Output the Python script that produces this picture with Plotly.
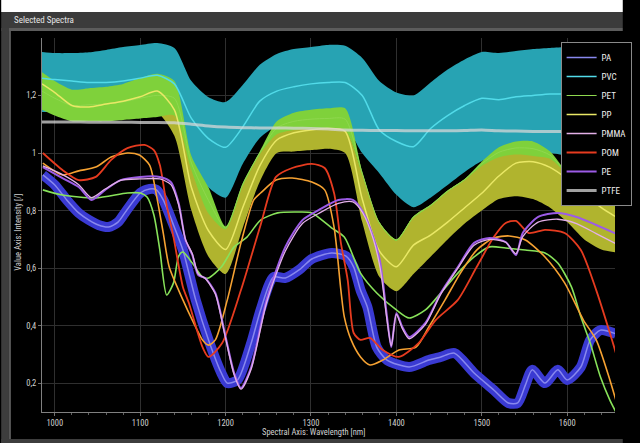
import plotly.graph_objects as go
import numpy as np

# ---------------- data ----------------
grid_nm = [985, 1000, 1020, 1040, 1060, 1080, 1100, 1120, 1140, 1160, 1180, 1200, 1220, 1240,
           1260, 1280, 1300, 1320, 1340, 1360, 1380, 1400, 1420, 1440, 1460, 1480, 1500, 1520,
           1540, 1560, 1580, 1600, 1620, 1640, 1656]

pvc_top = [1.351, 1.347, 1.347, 1.35, 1.358, 1.368, 1.375, 1.382, 1.365, 1.25, 1.194, 1.177, 1.236,
           1.306, 1.344, 1.361, 1.368, 1.375, 1.372, 1.33, 1.25, 1.21, 1.20, 1.245, 1.29, 1.325,
           1.351, 1.347, 1.354, 1.361, 1.365, 1.368, 1.372, 1.372, 1.372]
pvc_bot = [1.142, 1.142, 1.139, 1.142, 1.146, 1.149, 1.149, 1.149, 1.13, 0.96, 0.88, 0.845, 0.962,
           1.052, 1.094, 1.105, 1.11, 1.11, 1.095, 1.0, 0.93, 0.855, 0.812, 0.845, 0.889, 0.934,
           0.972, 0.993, 1.0, 1.003, 1.0, 0.99, 0.969, 0.951, 0.958]
pvc_mid = [1.26, 1.255, 1.25, 1.245, 1.245, 1.25, 1.26, 1.27, 1.24, 1.12, 1.05, 1.02, 1.09, 1.18,
           1.215, 1.23, 1.24, 1.245, 1.245, 1.2, 1.08, 1.04, 1.022, 1.085, 1.13, 1.165, 1.19,
           1.185, 1.195, 1.2, 1.205, 1.205, 1.21, 1.21, 1.21]

pp_top = [1.25, 1.22, 1.19, 1.19, 1.2, 1.21, 1.23, 1.25, 1.22, 0.95, 0.80, 0.74, 0.89, 1.0, 1.07,
          1.085, 1.09, 1.09, 1.085, 0.93, 0.76, 0.70, 0.78, 0.82, 0.87, 0.91, 0.96, 0.99, 1.0,
          0.995, 0.985, 0.93, 0.87, 0.83, 0.82]
pp_bot = [1.16, 1.14, 1.12, 1.12, 1.12, 1.125, 1.13, 1.14, 1.06, 0.80, 0.64, 0.58, 0.74, 0.90, 1.0,
          1.005, 1.01, 1.015, 1.0, 0.76, 0.57, 0.52, 0.58, 0.64, 0.70, 0.755, 0.80, 0.84, 0.85,
          0.84, 0.81, 0.76, 0.70, 0.665, 0.655]
pp_mid = [1.24, 1.21, 1.165, 1.16, 1.17, 1.18, 1.195, 1.215, 1.15, 0.88, 0.73, 0.665, 0.81, 0.955,
          1.045, 1.07, 1.08, 1.085, 1.075, 0.84, 0.66, 0.605, 0.68, 0.715, 0.76, 0.81, 0.86, 0.92,
          0.965, 0.97, 0.95, 0.91, 0.86, 0.81, 0.78]

pet_top = [1.28, 1.25, 1.22, 1.225, 1.23, 1.24, 1.26, 1.275, 1.25, 0.99, 0.88, 0.745, 0.895, 1.005,
           1.11, 1.14, 1.15, 1.155, 1.155, 0.935, 0.76, 0.70, 0.78, 0.82, 0.87, 0.91, 0.97, 1.02,
           1.04, 1.04, 1.005, 0.93, 0.87, 0.83, 0.82]
pet_bot = [1.15, 1.13, 1.11, 1.11, 1.11, 1.115, 1.12, 1.125, 1.13, 0.94, 0.79, 0.735, 0.885, 0.995,
           1.065, 1.08, 1.085, 1.085, 1.08, 0.925, 0.755, 0.695, 0.775, 0.815, 0.865, 0.905, 0.955,
           0.985, 0.995, 0.99, 0.98, 0.925, 0.865, 0.825, 0.815]

ptfe_v = [1.108, 1.108, 1.108, 1.107, 1.107, 1.107, 1.106, 1.106, 1.105, 1.1, 1.094, 1.09, 1.088,
          1.087, 1.087, 1.086, 1.085, 1.083, 1.08, 1.079, 1.078, 1.078, 1.077, 1.077, 1.077, 1.078,
          1.08, 1.077, 1.076, 1.075, 1.075, 1.075, 1.075, 1.074, 1.074]

pa_nm = [986, 1000, 1014, 1028, 1040, 1051, 1063, 1074, 1082, 1100, 1111, 1119, 1127, 1139, 1150,
         1165, 1180, 1195, 1202, 1214, 1230, 1241, 1256, 1270, 1286, 1301, 1324, 1341, 1350, 1358,
         1366, 1377, 1389, 1415, 1438, 1452, 1468, 1491, 1514, 1531, 1542, 1551, 1559, 1574, 1589,
         1600, 1616, 1627, 1639, 1657]
pa_v = [0.924, 0.889, 0.837, 0.792, 0.767, 0.75, 0.743, 0.76, 0.792, 0.861, 0.875, 0.872, 0.837,
        0.75, 0.663, 0.49, 0.351, 0.236, 0.201, 0.212, 0.34, 0.455, 0.569, 0.566, 0.594, 0.632,
        0.653, 0.642, 0.604, 0.524, 0.465, 0.326, 0.281, 0.257, 0.281, 0.292, 0.305, 0.236, 0.177,
        0.132, 0.132, 0.194, 0.247, 0.201, 0.247, 0.212, 0.257, 0.351, 0.385, 0.372]

pom_nm = [986, 1009, 1028, 1048, 1066, 1085, 1105, 1116, 1123, 1131, 1139, 1150, 1157, 1173, 1180,
          1196, 1218, 1241, 1259, 1278, 1301, 1316, 1327, 1335, 1343, 1350, 1358, 1369, 1384, 1403,
          1426, 1446, 1472, 1494, 1514, 1528, 1540, 1555, 1574, 1597, 1616, 1634, 1650, 1657]
pom_v = [1.0, 0.941, 0.906, 0.917, 0.976, 1.017, 1.028, 1.01, 0.958, 0.819, 0.708, 0.535, 0.479,
         0.326, 0.292, 0.34, 0.524, 0.75, 0.917, 0.948, 0.962, 0.948, 0.861, 0.688, 0.559, 0.375,
         0.351, 0.358, 0.316, 0.292, 0.34, 0.42, 0.49, 0.604, 0.708, 0.757, 0.764, 0.722, 0.733,
         0.722, 0.663, 0.524, 0.375, 0.306]

orange_nm = [986, 1009, 1028, 1048, 1066, 1085, 1099, 1111, 1119, 1127, 1134, 1150, 1161, 1173,
             1180, 1188, 1202, 1218, 1233, 1241, 1259, 1278, 1301, 1316, 1327, 1335, 1339, 1347,
             1358, 1369, 1384, 1403, 1423, 1438, 1457, 1475, 1494, 1514, 1532, 1551, 1574, 1597,
             1619, 1634, 1650, 1657]
orange_v = [0.965, 0.924, 0.938, 0.951, 0.986, 1.0, 0.993, 0.958, 0.854, 0.722, 0.604, 0.49, 0.42,
            0.351, 0.333, 0.351, 0.49, 0.688, 0.837, 0.861, 0.906, 0.913, 0.899, 0.872, 0.743,
            0.524, 0.431, 0.351, 0.292, 0.264, 0.281, 0.316, 0.326, 0.396, 0.49, 0.583, 0.663,
            0.705, 0.712, 0.698, 0.639, 0.549, 0.42, 0.351, 0.212, 0.142]

pe_nm = [986, 1009, 1028, 1043, 1059, 1077, 1100, 1123, 1136, 1145, 1153, 1161, 1168, 1176, 1188,
         1199, 1210, 1218, 1230, 1248, 1270, 1290, 1309, 1332, 1349, 1361, 1373, 1381, 1389, 1394,
         1400, 1407, 1415, 1434, 1452, 1472, 1491, 1509, 1528, 1540, 1548, 1566, 1589, 1611, 1634,
         1657]
pe_v = [0.951, 0.913, 0.882, 0.837, 0.872, 0.906, 0.917, 0.917, 0.899, 0.826, 0.698, 0.646, 0.576,
        0.566, 0.514, 0.375, 0.236, 0.184, 0.257, 0.49, 0.674, 0.767, 0.802, 0.837, 0.837, 0.795,
        0.708, 0.622, 0.431, 0.326, 0.444, 0.396, 0.361, 0.41, 0.514, 0.604, 0.688, 0.705, 0.691,
        0.646, 0.722, 0.778, 0.792, 0.778, 0.75, 0.72]

pmma_nm = [986, 1009, 1028, 1043, 1059, 1077, 1100, 1123, 1136, 1145, 1153, 1161, 1168, 1176, 1188,
           1199, 1210, 1218, 1230, 1248, 1270, 1290, 1309, 1332, 1349, 1361, 1373, 1381, 1389,
           1394, 1400, 1407, 1415, 1434, 1452, 1472, 1491, 1509, 1528, 1540, 1548, 1566, 1589,
           1611, 1634, 1657]
pmma_v = [0.955, 0.925, 0.89, 0.845, 0.875, 0.905, 0.91, 0.91, 0.89, 0.82, 0.7, 0.65, 0.58, 0.565,
          0.51, 0.37, 0.23, 0.18, 0.25, 0.48, 0.66, 0.755, 0.79, 0.825, 0.83, 0.79, 0.7, 0.6, 0.42,
          0.33, 0.44, 0.39, 0.355, 0.405, 0.51, 0.6, 0.68, 0.7, 0.69, 0.65, 0.71, 0.76, 0.77, 0.755,
          0.72, 0.685]

lgreen_nm = [986, 1009, 1048, 1085, 1100, 1108, 1116, 1123, 1131, 1139, 1145, 1150, 1161, 1173,
             1180, 1195, 1210, 1225, 1241, 1261, 1284, 1301, 1324, 1339, 1358, 1377, 1400, 1415,
             1434, 1452, 1472, 1491, 1509, 1528, 1551, 1574, 1589, 1605, 1616, 1627, 1639, 1650,
             1657]
lgreen_v = [0.872, 0.854, 0.844, 0.861, 0.861, 0.847, 0.785, 0.663, 0.507, 0.549, 0.642, 0.656,
            0.618, 0.569, 0.566, 0.604, 0.674, 0.708, 0.767, 0.792, 0.795, 0.792, 0.74, 0.708,
            0.583, 0.514, 0.455, 0.427, 0.455, 0.514, 0.583, 0.639, 0.674, 0.67, 0.663, 0.653,
            0.618, 0.535, 0.431, 0.34, 0.222, 0.142, 0.101]

legend_names = ["PA", "PVC", "PET", "PP", "PMMA", "POM", "PE", "PTFE"]

x_ticks = [1000, 1100, 1200, 1300, 1400, 1500, 1600]
y_ticks = [0.2, 0.4, 0.6, 0.8, 1.0, 1.2]

# ---------------- figure ----------------
fig = go.Figure()
SM = 0.7


def band(lo, hi, color):
    fig.add_trace(go.Scatter(x=grid_nm, y=lo, mode="lines",
                             line=dict(width=0, shape="spline", smoothing=SM),
                             showlegend=False, hoverinfo="skip"))
    fig.add_trace(go.Scatter(x=grid_nm, y=hi, mode="lines",
                             line=dict(width=0, shape="spline", smoothing=SM),
                             fill="tonexty", fillcolor=color,
                             showlegend=False, hoverinfo="skip"))


def line(x, y, color, width, name, rank=1000, show=True):
    fig.add_trace(go.Scatter(x=x, y=y, mode="lines", name=name,
                             line=dict(color=color, width=width, shape="spline", smoothing=SM),
                             showlegend=show, legendrank=rank))


band(pvc_bot, pvc_top, "#27a3b3")
band(pp_bot, pp_top, "#b0b42e")
band(pet_bot, pet_top, "#7fd13b")

pet_mid = list((np.array(pet_top) + np.array(pet_bot)) / 2)

line(grid_nm, pvc_mid, "#52dbe9", 1.5, legend_names[1], 2)
line(grid_nm, pet_mid, "#8fd84e", 1, legend_names[2], 3)
line(grid_nm, pp_mid, "#e9e866", 1.5, legend_names[3], 4)
line(grid_nm, ptfe_v, "rgba(215,215,215,0.75)", 3, legend_names[7], 8)

# PA thick band + light centre line
fig.add_trace(go.Scatter(x=pa_nm, y=pa_v, mode="lines", name=legend_names[0],
                         line=dict(color="#3a3ad2", width=10, shape="spline", smoothing=SM),
                         showlegend=False))
line(pa_nm, pa_v, "#8888ee", 1.5, legend_names[0], 1)

line(lgreen_nm, lgreen_v, "#88e25a", 1.6, "Spectrum 9", show=False)
line(orange_nm, orange_v, "#f6a232", 1.6, "Spectrum 10", show=False)
line(pom_nm, pom_v, "#e63b1f", 1.8, legend_names[5], 6)
line(pe_nm, pe_v, "#9c5be6", 2, legend_names[6], 7)
line(pmma_nm, pmma_v, "#e3b0e8", 1.3, legend_names[4], 5)

# ---------------- layout ----------------
L, R, T, B = 42, 8, 38, 31
W, H = 640, 443
pw, ph = W - L - R, H - T - B


def px(xp):
    return (xp - L) / pw


def py(yp):
    return (H - B - yp) / ph


font_fam = "Liberation Sans Narrow, Roboto Condensed, Roboto, Liberation Sans, sans-serif"

shapes = [
    dict(type="rect", xref="paper", yref="paper", x0=px(0), x1=px(W), y0=py(12), y1=py(-2),
         fillcolor="white", line=dict(width=0), layer="above"),
    dict(type="rect", xref="paper", yref="paper", x0=px(0), x1=px(W), y0=py(28), y1=py(12),
         fillcolor="#3b3b3b", line=dict(width=0), layer="above"),
    dict(type="rect", xref="paper", yref="paper", x0=px(0), x1=px(W), y0=py(31), y1=py(28),
         fillcolor="#5c5c5c", line=dict(width=0), layer="above"),
    dict(type="rect", xref="paper", yref="paper", x0=px(0), x1=px(8), y0=py(H), y1=py(28),
         fillcolor="#3d3d3d", line=dict(width=0), layer="above"),
    dict(type="rect", xref="paper", yref="paper", x0=px(8), x1=px(10), y0=py(439), y1=py(31),
         fillcolor="#585858", line=dict(width=0), layer="above"),
    dict(type="rect", xref="paper", yref="paper", x0=px(0), x1=px(W), y0=py(H), y1=py(439),
         fillcolor="#3d3d3d", line=dict(width=0), layer="above"),
]

annotations = [
    dict(text="Selected Spectra", xref="paper", yref="paper", x=px(11), y=py(20),
         xanchor="left", yanchor="middle", showarrow=False,
         font=dict(size=9, color="#e6e6e6", family=font_fam)),
    dict(text="Value Axis: Intensity [/]", xref="paper", yref="paper", x=px(17), y=py(232),
         xanchor="center", yanchor="middle", textangle=-90, showarrow=False,
         font=dict(size=8.5, color="#d0d0d0", family=font_fam)),
    dict(text="Spectral Axis: Wavelength [nm]", xref="paper", yref="paper", x=px(322), y=py(432),
         xanchor="center", yanchor="middle", showarrow=False,
         font=dict(size=8.5, color="#d0d0d0", family=font_fam)),
]

fig.update_layout(
    width=W, height=H,
    margin=dict(l=L, r=R, t=T, b=B, pad=0),
    paper_bgcolor="black", plot_bgcolor="black",
    separators=", ",
    font=dict(family=font_fam, size=9, color="#d8d8d8"),
    showlegend=True,
    legend=dict(x=px(576), y=py(42), xanchor="left", yanchor="top",
                bgcolor="black", bordercolor="#8a8a8a", borderwidth=1,
                font=dict(size=9, color="#f0f0f0", family=font_fam),
                itemwidth=30, tracegroupgap=0, traceorder="normal"),
    shapes=shapes,
    annotations=annotations,
    hovermode=False,
)

fig.update_xaxes(range=[985, 1656], tickvals=x_ticks, showgrid=True, gridcolor="#2f2f2f",
                 gridwidth=1, zeroline=False, showline=True, linecolor="#808080", linewidth=1,
                 ticks="outside", ticklen=3, tickcolor="#707070",
                 tickfont=dict(size=8.5, color="#d0d0d0"),
                 minor=dict(dtick=20, tick0=1000, ticks="outside", ticklen=2, tickcolor="#606060",
                            showgrid=False))
fig.update_yaxes(range=[0.1007, 1.3993], tickvals=y_ticks, showgrid=True, gridcolor="#2f2f2f",
                 gridwidth=1, zeroline=False, showline=True, linecolor="#808080", linewidth=1,
                 ticks="outside", ticklen=3, tickcolor="#707070",
                 tickfont=dict(size=8.5, color="#d0d0d0"))

fig.write_html("out.html", config={"displayModeBar": False},
               post_script="document.body.style.margin='0';document.body.style.overflow='hidden';")
